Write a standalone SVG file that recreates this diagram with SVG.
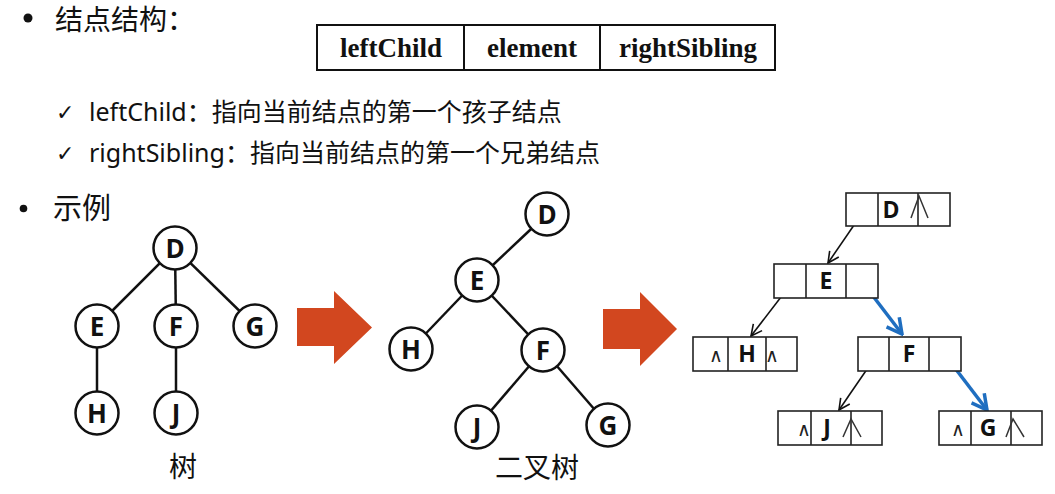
<svg xmlns="http://www.w3.org/2000/svg" width="1055" height="494" viewBox="0 0 1055 494">
<style>
.cn{font-family:"Noto Sans","Noto Sans CJK SC",sans-serif;fill:#111}
.hd{font-family:"Liberation Serif",serif;font-weight:bold;font-size:27px;fill:#111;text-anchor:middle}
.cir{fill:#fff;stroke:#111;stroke-width:2.5}
.cl{font-family:"Open Sans","Noto Sans",sans-serif;font-weight:bold;font-size:26px;fill:#111;text-anchor:middle}
.edge{stroke:#111;stroke-width:2.5}
.cell{fill:#fff;stroke:#222;stroke-width:1.6}
.bl{font-family:"Open Sans","Noto Sans",sans-serif;font-weight:bold;font-size:23px;fill:#111;text-anchor:middle}
.nul{font-family:"DejaVu Sans",sans-serif;font-size:19px;fill:#222;text-anchor:middle}
.big{fill:none;stroke:#333;stroke-width:1.5}
.blk{stroke:#111;stroke-width:1.6;fill:none}
.blu{stroke:#1F6EC0;stroke-width:3.5;fill:none}
.orange{fill:#D2471F}
.chk{font-family:"DejaVu Sans",sans-serif;font-size:22px;fill:#111}
</style>
<defs>
<marker id="ah" markerUnits="userSpaceOnUse" markerWidth="14" markerHeight="14" viewBox="0 0 14 14" refX="13" refY="7" orient="auto">
<path d="M2,1.5 L13,7 L2,12.5" fill="none" stroke="#111" stroke-width="1.6"/>
</marker>
<marker id="ahb" markerUnits="userSpaceOnUse" markerWidth="20" markerHeight="20" viewBox="0 0 20 20" refX="18" refY="10" orient="auto">
<path d="M3,2 L18,10 L3,18" fill="none" stroke="#1F6EC0" stroke-width="3.5"/>
</marker>
</defs>
<rect width="1055" height="494" fill="#fff"/>

<g id="header">
<circle cx="28" cy="18" r="4.5" fill="#111"/>
<text class="cn" x="55" y="30" font-size="28">结点结构：</text>
<rect x="317" y="25" width="458" height="45" fill="#fff" stroke="#111" stroke-width="2"/>
<line x1="464" y1="25" x2="464" y2="70" stroke="#111" stroke-width="2"/>
<line x1="600" y1="25" x2="600" y2="70" stroke="#111" stroke-width="2"/>
<text class="hd" x="391" y="57">leftChild</text>
<text class="hd" x="532" y="57">element</text>
<text class="hd" x="688" y="57">rightSibling</text>
<text class="chk" x="56" y="120">✓</text>
<text class="cn" x="89" y="121" font-size="25">leftChild：指向当前结点的第一个孩子结点</text>
<text class="chk" x="56" y="161">✓</text>
<text class="cn" x="89" y="162" font-size="25">rightSibling：指向当前结点的第一个兄弟结点</text>
<circle cx="23.5" cy="208.5" r="3.8" fill="#111"/>
<text class="cn" x="53" y="219" font-size="29">示例</text>
</g>

<g id="connectors">
<line class="edge" x1="175" y1="248" x2="97" y2="326"/>
<line class="edge" x1="175" y1="248" x2="176" y2="326"/>
<line class="edge" x1="175" y1="248" x2="255" y2="326"/>
<line class="edge" x1="97" y1="326" x2="97" y2="413"/>
<line class="edge" x1="176" y1="326" x2="176" y2="413"/>
<line class="edge" x1="547" y1="214" x2="477" y2="280"/>
<line class="edge" x1="477" y1="280" x2="411" y2="349"/>
<line class="edge" x1="477" y1="280" x2="543" y2="350"/>
<line class="edge" x1="543" y1="350" x2="477" y2="427"/>
<line class="edge" x1="543" y1="350" x2="608" y2="425"/>
<line class="blk" x1="863" y1="212" x2="828" y2="263" marker-end="url(#ah)"/>
<line class="blk" x1="791" y1="284" x2="751" y2="336" marker-end="url(#ah)"/>
<line class="blu" x1="863" y1="283" x2="902" y2="334" marker-end="url(#ahb)"/>
<line class="blk" x1="876" y1="356" x2="839" y2="410" marker-end="url(#ah)"/>
<line class="blu" x1="945" y1="355" x2="987" y2="410" marker-end="url(#ahb)"/>
</g>

<g id="tree-D"><circle class="cir" cx="175" cy="248" r="21.5"/><text class="cl" x="175" y="257.5">D</text></g>
<g id="tree-E"><circle class="cir" cx="97" cy="326" r="21.5"/><text class="cl" x="97" y="335.5">E</text></g>
<g id="tree-F"><circle class="cir" cx="176" cy="326" r="21.5"/><text class="cl" x="176" y="335.5">F</text></g>
<g id="tree-G"><circle class="cir" cx="255" cy="326" r="21.5"/><text class="cl" x="255" y="335.5">G</text></g>
<g id="tree-H"><circle class="cir" cx="97" cy="413" r="21.5"/><text class="cl" x="97" y="422.5">H</text></g>
<g id="tree-J"><circle class="cir" cx="176" cy="413" r="21.5"/><text class="cl" x="176" y="422.5">J</text></g>
<text class="cn" x="183" y="477" font-size="28" text-anchor="middle">树</text>

<polygon class="orange" points="297,308 334,308 334,291 372,327.5 334,364 334,346 297,346"/>

<g id="bin-D"><circle class="cir" cx="547" cy="214" r="21.5"/><text class="cl" x="547" y="223.5">D</text></g>
<g id="bin-E"><circle class="cir" cx="477" cy="280" r="21.5"/><text class="cl" x="477" y="289.5">E</text></g>
<g id="bin-H"><circle class="cir" cx="411" cy="349" r="21.5"/><text class="cl" x="411" y="358.5">H</text></g>
<g id="bin-F"><circle class="cir" cx="543" cy="350" r="21.5"/><text class="cl" x="543" y="359.5">F</text></g>
<g id="bin-J"><circle class="cir" cx="477" cy="427" r="21.5"/><text class="cl" x="477" y="436.5">J</text></g>
<g id="bin-G"><circle class="cir" cx="608" cy="425" r="21.5"/><text class="cl" x="608" y="434.5">G</text></g>
<text class="cn" x="537" y="478" font-size="28" text-anchor="middle">二叉树</text>

<polygon class="orange" points="603,309 640,309 640,292 677,329 640,366 640,349 603,349"/>

<g id="link-D">
<rect class="cell" x="846" y="193" width="104" height="33"/>
<line class="cell" x1="878" y1="193" x2="878" y2="226"/><line class="cell" x1="918" y1="193" x2="918" y2="226"/>
<text class="bl" x="891" y="218">D</text>
<polyline class="big" points="911,218 919,196 928,218"/>
</g>
<g id="link-E">
<rect class="cell" x="774" y="264" width="104" height="34"/>
<line class="cell" x1="806" y1="264" x2="806" y2="298"/><line class="cell" x1="846" y1="264" x2="846" y2="298"/>
<text class="bl" x="826" y="289">E</text>
</g>
<g id="link-H">
<rect class="cell" x="693" y="337" width="104" height="34"/>
<line class="cell" x1="728" y1="337" x2="728" y2="371"/><line class="cell" x1="766" y1="337" x2="766" y2="371"/>
<text class="bl" x="747" y="362">H</text>
<text class="nul" x="716" y="362">∧</text>
<text class="nul" x="772" y="362">∧</text>
</g>
<g id="link-F">
<rect class="cell" x="858" y="337" width="103" height="34"/>
<line class="cell" x1="889" y1="337" x2="889" y2="371"/><line class="cell" x1="929" y1="337" x2="929" y2="371"/>
<text class="bl" x="909" y="362">F</text>
</g>
<g id="link-J">
<rect class="cell" x="778" y="411" width="104" height="34"/>
<line class="cell" x1="811" y1="411" x2="811" y2="445"/><line class="cell" x1="851" y1="411" x2="851" y2="445"/>
<text class="bl" x="827" y="436">J</text>
<text class="nul" x="804" y="436">∧</text>
<polyline class="big" points="843,437 851,419 861,437"/>
</g>
<g id="link-G">
<rect class="cell" x="939" y="411" width="103" height="34"/>
<line class="cell" x1="971" y1="411" x2="971" y2="445"/><line class="cell" x1="1011" y1="411" x2="1011" y2="445"/>
<text class="bl" x="988" y="436">G</text>
<text class="nul" x="958" y="436">∧</text>
<polyline class="big" points="1006,437 1013,419 1024,437"/>
</g>
</svg>
